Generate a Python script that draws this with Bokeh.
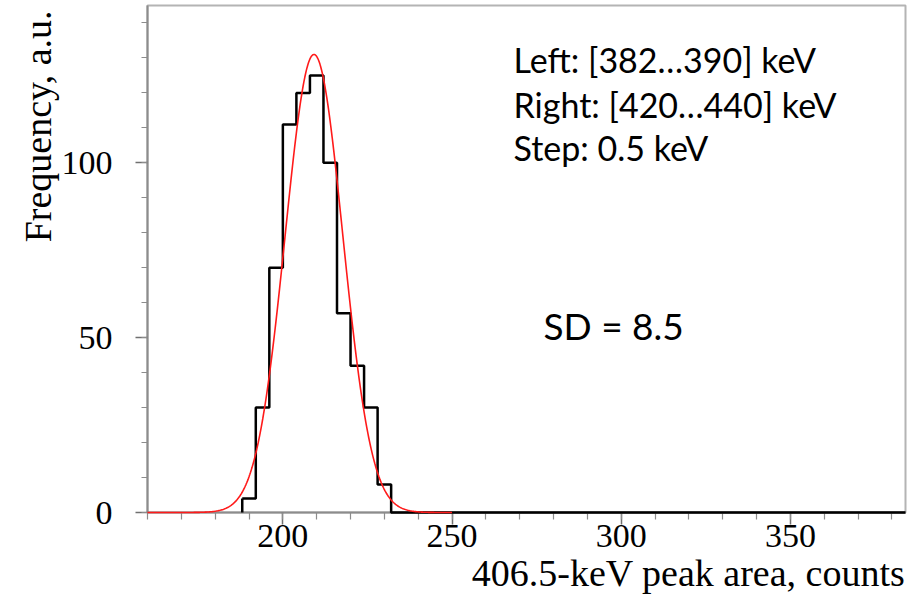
import numpy as np
from bokeh.plotting import figure
from bokeh.models import Range1d, SingleIntervalTicker, Label, Title
from bokeh.embed import file_html
from bokeh.resources import INLINE

# ---- data ----
bin_edges = [188, 192, 196, 200, 204, 208, 212, 216, 220, 224, 228, 232]
bin_counts = [4, 30, 70, 111, 120, 125, 100, 57, 42, 30, 8]
x_min, x_max = 160, 384
y_min, y_max = 0, 145

# Gaussian fit parameters
fit_mean = 209.2
fit_sd = 8.5
fit_peak = 131.0
fit_x_start, fit_x_end = 160, 250

info_lines = ["Left: [382\u2026390] keV", "Right: [420\u2026440] keV", "Step: 0.5 keV"]
sd_text = "SD = 8.5"
x_label = "406.5-keV peak area, counts"
y_label = "Frequency, a.u."

# ---- figure ----
p = figure(width=922, height=603, x_range=Range1d(x_min, x_max), y_range=Range1d(y_min, y_max),
           output_backend="svg", toolbar_location=None,
           min_border_left=147, min_border_right=17, min_border_top=5, min_border_bottom=91)
p.background_fill_color = "white"
p.border_fill_color = "white"
p.outline_line_color = "#b4b4b4"
p.outline_line_width = 2
p.xgrid.visible = False
p.ygrid.visible = False

for ax in (p.xaxis[0], p.yaxis[0]):
    ax.ticker = SingleIntervalTicker(interval=50, num_minor_ticks=5)
    ax.axis_line_color = "#8c8c8c"
    ax.axis_line_width = 2
    ax.major_tick_line_color = "#707070"
    ax.minor_tick_line_color = "#8c8c8c"
    ax.major_tick_line_width = 1.5
    ax.minor_tick_line_width = 1.2
    ax.major_tick_in = 0
    ax.minor_tick_in = 0
    ax.major_label_text_font = "Liberation Serif"
    ax.major_label_text_font_size = "34px"
    ax.major_label_text_color = "black"
    ax.axis_label = None

p.yaxis.major_tick_out = 12
p.yaxis.minor_tick_out = 6
p.yaxis.major_label_standoff = 23
p.xaxis.major_tick_out = 12
p.xaxis.minor_tick_out = 7
p.xaxis.major_label_standoff = 0

# axis titles (placed in the side panels)
p.add_layout(Title(text=x_label, align="right", text_font="Liberation Serif",
                   text_font_size="38px", text_font_style="normal", text_color="black",
                   standoff=0), "below")
p.add_layout(Title(text=y_label, align="right", text_font="Liberation Serif",
                   text_font_size="38px", text_font_style="normal", text_color="black",
                   standoff=0, offset=5), "left")

# histogram as a step line (zero line continues to the right end)
xs = bin_edges + [x_max]
ys = bin_counts + [0, 0]
p.step(xs, ys, mode="after", line_color="black", line_width=2.5, level="overlay")
p.segment(x0=[bin_edges[0]], y0=[0], x1=[bin_edges[0]], y1=[bin_counts[0]],
          line_color="black", line_width=2.5, level="overlay")

# gaussian fit
gx = np.linspace(fit_x_start, fit_x_end, 400)
gy = fit_peak * np.exp(-0.5 * ((gx - fit_mean) / fit_sd) ** 2)
p.line(gx, gy, line_color="#ff1a1a", line_width=1.6, level="overlay")

# annotations (screen units relative to the frame's bottom-left)
for txt, sy in zip(info_lines, [453, 408, 365]):
    p.add_layout(Label(x=366, y=sy, x_units="screen", y_units="screen", text=txt,
                       text_font="Lato", text_font_size="34px", text_color="black",
                       text_baseline="alphabetic", text_align="left"))
p.add_layout(Label(x=396, y=187, x_units="screen", y_units="screen", text=sd_text,
                   text_font="Lato", text_font_size="37px", text_color="black",
                   text_baseline="alphabetic", text_align="left"))

open("out.html", "w").write(file_html(p, INLINE))
